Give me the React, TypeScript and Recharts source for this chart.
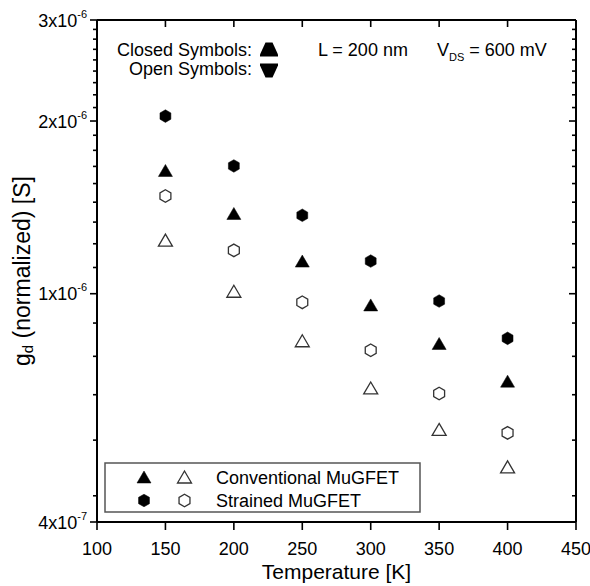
import React from 'react';
import { ScatterChart, Scatter, XAxis, YAxis } from 'recharts';

const FONT = '"Liberation Sans", Arial, sans-serif';

// temperature [K]
const temps = [150, 200, 250, 300, 350, 400];
// gd (normalized) [S]
const convClosed = [1.64e-6, 1.38e-6, 1.14e-6, 9.56e-7, 8.19e-7, 7.04e-7];
const convOpen = [1.24e-6, 1.01e-6, 8.28e-7, 6.85e-7, 5.8e-7, 4.99e-7];
const strainedClosed = [2.04e-6, 1.67e-6, 1.37e-6, 1.14e-6, 9.71e-7, 8.36e-7];
const strainedOpen = [1.48e-6, 1.19e-6, 9.66e-7, 7.97e-7, 6.7e-7, 5.72e-7];

const xTicks = [100, 150, 200, 250, 300, 350, 400, 450];
const yMajor = [4e-7, 1e-6, 2e-6, 3e-6];
const yMantissa = ['4', '1', '2', '3'];
const yExponent = ['-7', '-6', '-6', '-6'];
const yMinor = [
    4.444e-7, 5.556e-7, 6.667e-7, 7.778e-7, 8.889e-7,
    1.111e-6, 1.222e-6, 1.333e-6, 1.444e-6, 1.556e-6, 1.667e-6, 1.778e-6, 1.889e-6,
    2.111e-6, 2.222e-6, 2.333e-6, 2.444e-6, 2.556e-6, 2.667e-6, 2.778e-6, 2.889e-6,
];
const yTicks = [...yMajor, ...yMinor].sort((a, b) => a - b);

const toPoints = (vals: number[]) => temps.map((t, i) => ({ t, g: vals[i] }));

const majorIndex = (v: number) => yMajor.findIndex((m) => Math.abs(m - v) < 1e-12);

function LeftTick(props: any) {
    const { x, y, payload } = props;
    const i = majorIndex(payload.value);
    const len = i >= 0 ? 7 : 4;
    return (
        <g>
            <line x1={x - len} y1={y} x2={x} y2={y} stroke="#000" strokeWidth={1.6} />
            {i >= 0 && (
                <text x={x - 10} y={y + 6.5} textAnchor="end" fontSize={18} fill="#000" fontFamily={FONT}>
                    {yMantissa[i]}x10
                    <tspan dy={-9} fontSize={11}>{yExponent[i]}</tspan>
                </text>
            )}
        </g>
    );
}

function RightTick(props: any) {
    const { x, y, payload } = props;
    const len = majorIndex(payload.value) >= 0 ? 7 : 4;
    return <line x1={x - len} y1={y} x2={x} y2={y} stroke="#000" strokeWidth={1.6} />;
}

function BottomTick(props: any) {
    const { x, y, payload } = props;
    return (
        <g>
            <line x1={x} y1={y} x2={x} y2={y + 8} stroke="#000" strokeWidth={1.6} />
            <text x={x} y={y + 32.5} textAnchor="middle" fontSize={18} fill="#000" fontFamily={FONT}>
                {payload.value}
            </text>
        </g>
    );
}

function TopTick(props: any) {
    const { x, y } = props;
    return <line x1={x} y1={y} x2={x} y2={y + 7} stroke="#000" strokeWidth={1.6} />;
}

function triPath(cx: number, cy: number) {
    return `M${cx},${cy - 6} L${cx + 7},${cy + 6} L${cx - 7},${cy + 6} Z`;
}

function hexPoints(cx: number, cy: number) {
    const r = 6.3;
    const pts: string[] = [];
    for (let k = 0; k < 6; k++) {
        const a = (Math.PI / 3) * k - Math.PI / 2;
        pts.push(`${cx + r * Math.cos(a)},${cy + r * Math.sin(a)}`);
    }
    return pts.join(' ');
}

function Marker({ cx, cy, kind, filled }: { cx: number; cy: number; kind: 'tri' | 'hex'; filled: boolean }) {
    const fill = filled ? '#000' : 'none';
    const stroke = filled ? '#000' : '#333';
    const sw = filled ? 0.5 : 1.3;
    if (kind === 'tri') return <path d={triPath(cx, cy)} fill={fill} stroke={stroke} strokeWidth={sw} />;
    return <polygon points={hexPoints(cx, cy)} fill={fill} stroke={stroke} strokeWidth={sw} />;
}

function Overlay() {
    const text = { fontFamily: FONT, fontSize: 18, fill: '#000' };
    return (
        <svg
            width={590}
            height={586}
            style={{ position: 'absolute', left: 0, top: 0, pointerEvents: 'none' }}
        >
            {/* top annotations */}
            <text x={252} y={55.5} textAnchor="end" {...text}>Closed Symbols:</text>
            <text x={252} y={75} textAnchor="end" {...text}>Open Symbols:</text>
            <polygon points="265.5,42.5 272.5,42.5 278,54.5 278,56.5 260,56.5 260,54.5" fill="#000" />
            <polygon points="265.5,77.5 272.5,77.5 278,65.5 278,63.5 260,63.5 260,65.5" fill="#000" />
            <text x={318} y={55.5} {...text}>L = 200 nm</text>
            <text x={437} y={55.5} {...text}>
                V<tspan dy={5} fontSize={11}>DS</tspan>
                <tspan dy={-5}> = 600 mV</tspan>
            </text>

            {/* legend */}
            <rect x={105} y={463} width={315} height={49} fill="none" stroke="#555" strokeWidth={1.5} />
            <Marker cx={144} cy={477} kind="tri" filled />
            <Marker cx={184.5} cy={477} kind="tri" filled={false} />
            <text x={216} y={483.5} {...text}>Conventional MuGFET</text>
            <Marker cx={144} cy={500.5} kind="hex" filled />
            <Marker cx={184.5} cy={500.5} kind="hex" filled={false} />
            <text x={216} y={507} {...text}>Strained MuGFET</text>

            {/* axis titles */}
            <text x={336.5} y={579} textAnchor="middle" {...text} fontSize={21}>Temperature [K]</text>
            <text
                x={22}
                y={271}
                textAnchor="middle"
                transform="rotate(-90, 22, 271)"
                dominantBaseline="central"
                {...text}
                fontSize={23}
            >
                g<tspan dy={5} fontSize={15}>d</tspan>
                <tspan dy={-5}> (normalized) [S]</tspan>
            </text>
        </svg>
    );
}

export default function App() {
    const axisLine = { stroke: '#000', strokeWidth: 2 };
    return (
        <div style={{ position: 'absolute', left: 0, top: 0, width: 590, height: 586, background: '#fff' }}>
            <ScatterChart width={590} height={586} margin={{ top: 16, right: 10, bottom: 24, left: 0 }}>
                <XAxis
                    xAxisId="bottom"
                    dataKey="t"
                    type="number"
                    domain={[100, 450]}
                    ticks={xTicks}
                    interval={0}
                    height={40}
                    axisLine={axisLine}
                    tickLine={false}
                    tickSize={0}
                    tickMargin={0}
                    tick={BottomTick}
                    allowDataOverflow
                />
                <XAxis
                    xAxisId="top"
                    orientation="top"
                    dataKey="t"
                    type="number"
                    domain={[100, 450]}
                    ticks={xTicks}
                    interval={0}
                    height={4}
                    axisLine={axisLine}
                    tickLine={false}
                    tickSize={0}
                    tickMargin={0}
                    tick={TopTick}
                    allowDataOverflow
                />
                <YAxis
                    yAxisId="left"
                    dataKey="g"
                    type="number"
                    scale="log"
                    domain={[4e-7, 3e-6]}
                    ticks={yTicks}
                    interval={0}
                    width={97}
                    axisLine={axisLine}
                    tickLine={false}
                    tickSize={0}
                    tickMargin={0}
                    tick={LeftTick}
                    allowDataOverflow
                />
                <YAxis
                    yAxisId="right"
                    orientation="right"
                    dataKey="g"
                    type="number"
                    scale="log"
                    domain={[4e-7, 3e-6]}
                    ticks={yTicks}
                    interval={0}
                    width={4}
                    axisLine={axisLine}
                    tickLine={false}
                    tickSize={0}
                    tickMargin={0}
                    tick={RightTick}
                    allowDataOverflow
                />
                <Scatter
                    xAxisId="top"
                    yAxisId="right"
                    data={toPoints(convClosed)}
                    shape={() => <g />}
                    isAnimationActive={false}
                />
                <Scatter
                    xAxisId="bottom"
                    yAxisId="left"
                    data={toPoints(strainedClosed)}
                    shape={(p: any) => <Marker cx={p.cx} cy={p.cy} kind="hex" filled />}
                    isAnimationActive={false}
                />
                <Scatter
                    xAxisId="bottom"
                    yAxisId="left"
                    data={toPoints(convClosed)}
                    shape={(p: any) => <Marker cx={p.cx} cy={p.cy} kind="tri" filled />}
                    isAnimationActive={false}
                />
                <Scatter
                    xAxisId="bottom"
                    yAxisId="left"
                    data={toPoints(strainedOpen)}
                    shape={(p: any) => <Marker cx={p.cx} cy={p.cy} kind="hex" filled={false} />}
                    isAnimationActive={false}
                />
                <Scatter
                    xAxisId="bottom"
                    yAxisId="left"
                    data={toPoints(convOpen)}
                    shape={(p: any) => <Marker cx={p.cx} cy={p.cy} kind="tri" filled={false} />}
                    isAnimationActive={false}
                />
            </ScatterChart>
            <Overlay />
        </div>
    );
}
